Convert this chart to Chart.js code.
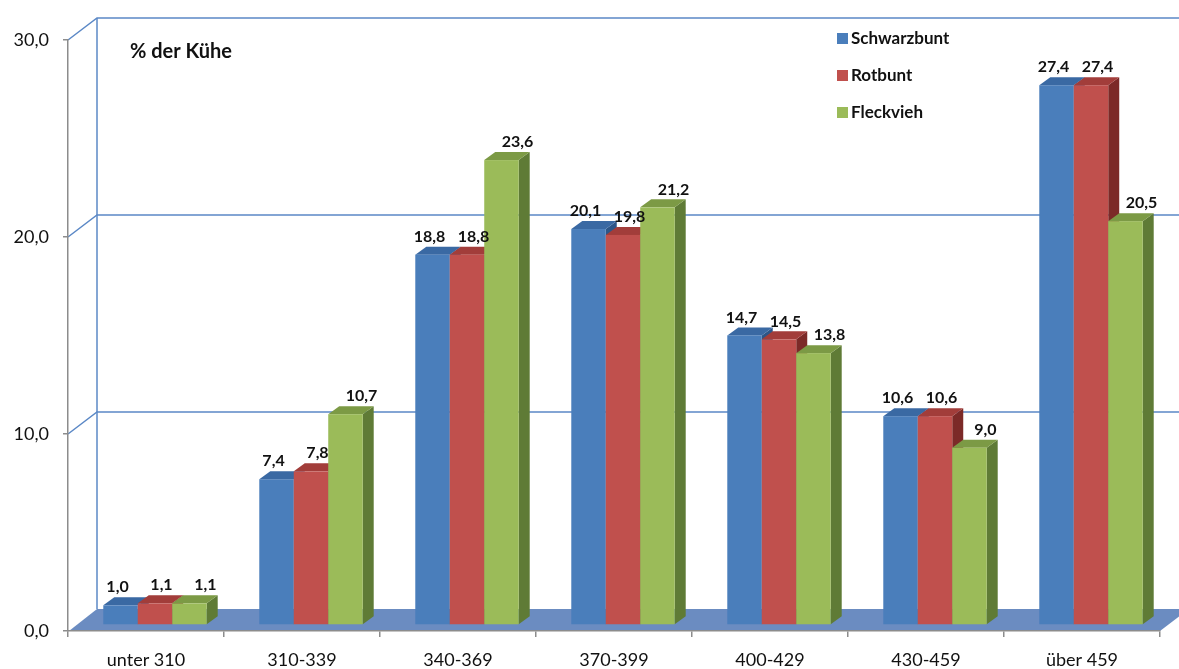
<!DOCTYPE html>
<html lang="de">
<head>
<meta charset="utf-8">
<title>Laktationsleistung nach Rasse</title>
<script src="https://cdn.jsdelivr.net/npm/chart.js@4.4.1/dist/chart.umd.min.js"></script>
<style>
	html, body { margin: 0; padding: 0; background: #fff; }
	#wrap { width: 1179px; height: 669px; }
</style>
</head>
<body>
<div id="wrap"><canvas id="chart"></canvas></div>
<script>
const categories = ['unter 310', '310-339', '340-369', '370-399', '400-429', '430-459', 'über 459'];
const schwarzbunt = [1.0, 7.4, 18.8, 20.1, 14.7, 10.6, 27.4];
const rotbunt = [1.1, 7.8, 18.8, 19.8, 14.5, 10.6, 27.4];
const fleckvieh = [1.1, 10.7, 23.6, 21.2, 13.8, 9.0, 20.5];
const seriesNames = ['Schwarzbunt', 'Rotbunt', 'Fleckvieh'];
const yMax = 30;
const yStep = 10;

const FONT = 'Lato, "Open Sans", sans-serif';
const TEXT = '#111';
const AXIS = '#8c8c8c';
const GRID = '#5b88c6';
const FLOOR = '#6b8cc1';

// fake 3d: back wall offset, bar shift inside the floor, bar depth
const WALL = { dx: 29, dy: -22 };
const SHIFT = { dx: 9, dy: -6 };
const DEPTH = { dx: 11, dy: -8 };

const faces = [
	{ front: '#4a7ebb', top: '#3a69a3', side: '#2d5688' },
	{ front: '#c0504d', top: '#a23d3a', side: '#7c2a28' },
	{ front: '#9bbb59', top: '#7c9a45', side: '#5f7b36' }
];

const fmt = (v) => v.toFixed(1).replace('.', ',');

const wallPlugin = {
	id: 'wall',
	beforeDraw(chart) {
		const { ctx, chartArea: a } = chart;
		const y = chart.scales.y;
		ctx.save();
		// floor
		ctx.fillStyle = FLOOR;
		ctx.beginPath();
		ctx.moveTo(a.left + 1, a.bottom);
		ctx.lineTo(a.left + WALL.dx, a.bottom + WALL.dy);
		ctx.lineTo(a.right + WALL.dx, a.bottom + WALL.dy);
		ctx.lineTo(a.right, a.bottom);
		ctx.closePath();
		ctx.fill();

		// gridlines on the back wall, with the slanted bit on the side wall
		ctx.strokeStyle = GRID;
		ctx.lineWidth = 1.5;
		y.ticks.forEach((t) => {
			if (t.value === 0) return;
			const py = y.getPixelForValue(t.value);
			ctx.beginPath();
			ctx.moveTo(a.left, py);
			ctx.lineTo(a.left + WALL.dx, py + WALL.dy);
			ctx.lineTo(a.right + WALL.dx + 20, py + WALL.dy);
			ctx.stroke();
		});
		ctx.beginPath();
		ctx.moveTo(a.left + WALL.dx, a.top + WALL.dy);
		ctx.lineTo(a.left + WALL.dx, a.bottom + WALL.dy);
		ctx.stroke();
		ctx.restore();
	}
};

const barsPlugin = {
	id: 'bars3d',
	beforeDatasetDraw() {
		return false; // bars are painted below as boxes
	},
	afterDatasetsDraw(chart) {
		const ctx = chart.ctx;
		const metas = chart.getSortedVisibleDatasetMetas();
		ctx.save();
		categories.forEach((c, i) => {
			metas.forEach((meta) => {
				const bar = meta.data[i];
				const f = faces[meta.index];
				const l = bar.x - bar.width / 2 + SHIFT.dx;
				const r = bar.x + bar.width / 2 + SHIFT.dx;
				const t = bar.y + SHIFT.dy;
				const b = bar.base + SHIFT.dy;

				ctx.fillStyle = f.side;
				ctx.beginPath();
				ctx.moveTo(r, t);
				ctx.lineTo(r + DEPTH.dx, t + DEPTH.dy);
				ctx.lineTo(r + DEPTH.dx, b + DEPTH.dy);
				ctx.lineTo(r, b);
				ctx.closePath();
				ctx.fill();

				ctx.fillStyle = f.top;
				ctx.beginPath();
				ctx.moveTo(l, t);
				ctx.lineTo(l + DEPTH.dx, t + DEPTH.dy);
				ctx.lineTo(r + DEPTH.dx, t + DEPTH.dy);
				ctx.lineTo(r, t);
				ctx.closePath();
				ctx.fill();

				ctx.fillStyle = f.front;
				ctx.fillRect(l, t, r - l, b - t);
			});
		});

		// value labels, drifting right a little per series like excel does
		ctx.fillStyle = TEXT;
		ctx.font = 'bold 16px ' + FONT;
		ctx.textAlign = 'center';
		ctx.textBaseline = 'middle';
		metas.forEach((meta) => {
			const values = chart.data.datasets[meta.index].data;
			const drift = -3 + meta.index * 9.5;
			meta.data.forEach((bar, i) => {
				ctx.fillText(fmt(values[i]), bar.x + SHIFT.dx + drift, bar.y + SHIFT.dy - 18);
			});
		});
		ctx.restore();
	}
};

const textPlugin = {
	id: 'texts',
	afterDraw(chart) {
		const ctx = chart.ctx;
		ctx.save();
		ctx.fillStyle = TEXT;
		ctx.textBaseline = 'middle';
		ctx.font = 'bold 20px ' + FONT;
		ctx.fillText('% der Kühe', 130, 52);

		ctx.font = 'bold 17px ' + FONT;
		chart.data.datasets.forEach((ds, i) => {
			const ly = 39 + i * 37;
			ctx.fillStyle = ds.backgroundColor;
			ctx.fillRect(837, ly - 6, 11, 11);
			ctx.fillStyle = TEXT;
			ctx.fillText(ds.label, 851, ly);
		});
		ctx.restore();
	}
};

const datasets = [schwarzbunt, rotbunt, fleckvieh].map((values, i) => ({
	label: seriesNames[i],
	data: values,
	backgroundColor: faces[i].front,
	categoryPercentage: 0.663,
	barPercentage: 1
}));

new Chart(document.getElementById('chart'), {
	type: 'bar',
	data: { labels: categories, datasets: datasets },
	options: {
		responsive: true,
		maintainAspectRatio: false,
		animation: false,
		layout: { padding: { top: 40, right: 19, left: 0, bottom: 0 } },
		plugins: {
			legend: { display: false },
			tooltip: { enabled: false }
		},
		scales: {
			x: {
				ticks: { padding: 12, color: TEXT, font: { family: FONT, size: 18 } },
				grid: { drawOnChartArea: false, tickLength: 6, color: AXIS, lineWidth: 1.5, offset: true },
				border: { color: AXIS, width: 1.5 },
				afterFit(scale) { scale.height = 38; }
			},
			y: {
				min: 0,
				max: yMax,
				ticks: { stepSize: yStep, padding: 14, color: TEXT, font: { family: FONT, size: 18 }, callback: (v) => fmt(v) },
				grid: { drawOnChartArea: false, tickLength: 5, color: AXIS, lineWidth: 1.5 },
				border: { color: AXIS, width: 1.5 },
				afterFit(scale) { scale.width = 68; }
			}
		}
	},
	plugins: [wallPlugin, barsPlugin, textPlugin]
});
</script>
</body>
</html>
